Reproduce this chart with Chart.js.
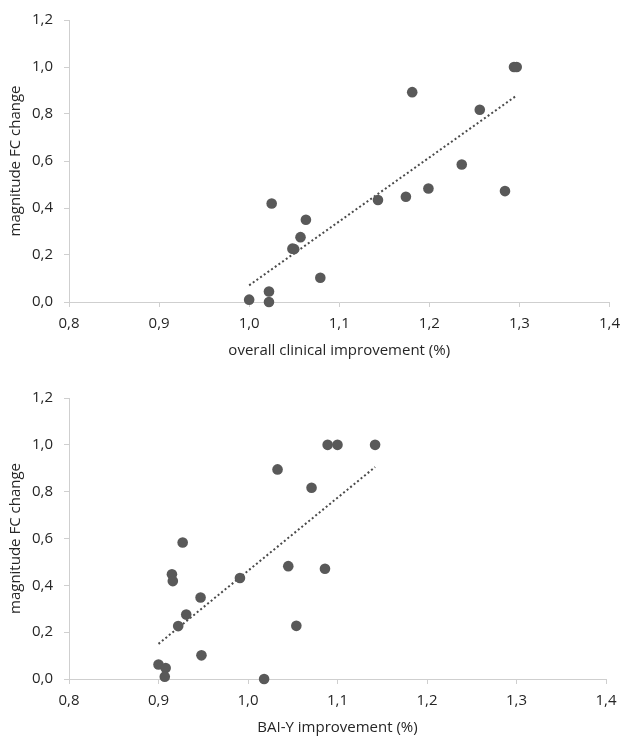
<!DOCTYPE html>
<html>
<head>
<meta charset="utf-8">
<script src="https://cdn.jsdelivr.net/npm/chart.js@4"></script>
<style>
  body { margin: 0; background: #fff; }
  .box { position: relative; width: 628px; }
</style>
</head>
<body>
<div class="box" style="height:370px"><canvas id="chartTop" width="628" height="370"></canvas></div>
<div class="box" style="height:369px"><canvas id="chartBottom" width="628" height="369"></canvas></div>
<script>
// axis ticks
const xTickValues = [0.8, 0.9, 1.0, 1.1, 1.2, 1.3, 1.4];
const xTickLabels = ["0,8", "0,9", "1,0", "1,1", "1,2", "1,3", "1,4"];
const yTickValues = [0, 0.2, 0.4, 0.6, 0.8, 1.0, 1.2];
const yTickLabels = ["0,0", "0,2", "0,4", "0,6", "0,8", "1,0", "1,2"];

// top chart: overall clinical improvement vs magnitude FC change
const clinicalX = [1.000, 1.022, 1.022, 1.025, 1.063, 1.057, 1.048, 1.050, 1.079, 1.143, 1.174, 1.181, 1.199, 1.236, 1.256, 1.284, 1.294, 1.297];
const clinicalY = [0.010, 0.045, 0.000, 0.419, 0.350, 0.276, 0.227, 0.225, 0.103, 0.434, 0.448, 0.893, 0.483, 0.585, 0.818, 0.472, 1.000, 1.000];
const clinicalTrendX = [1.000, 1.296];
const clinicalTrendY = [0.071, 0.876];

// bottom chart: BAI-Y improvement vs magnitude FC change
const baiX = [0.900, 0.908, 0.907, 0.915, 0.916, 0.927, 0.922, 0.931, 0.947, 0.948, 0.991, 1.018, 1.033, 1.045, 1.054, 1.071, 1.086, 1.089, 1.100, 1.142];
const baiY = [0.062, 0.047, 0.010, 0.447, 0.418, 0.583, 0.226, 0.275, 0.348, 0.101, 0.431, 0.000, 0.895, 0.482, 0.227, 0.817, 0.471, 1.000, 1.000, 1.000];
const baiTrendX = [0.900, 1.142];
const baiTrendY = [0.150, 0.905];

const pointColor = "#595959";
const axisColor = "#cfcfcf";
const textColor = "#262626";
const fontFamily = "'Open Sans', sans-serif";

function toPoints(xs, ys) {
  return xs.map((x, i) => ({ x: x, y: ys[i] }));
}

function makeChart(canvasId, xs, ys, trendXs, trendYs, xTitle, pad) {
  const ctx = document.getElementById(canvasId).getContext("2d");
  return new Chart(ctx, {
    type: "scatter",
    data: {
      datasets: [
        {
          data: toPoints(xs, ys),
          backgroundColor: pointColor,
          borderColor: pointColor,
          pointRadius: 5.3,
          pointHoverRadius: 5.3,
          borderWidth: 0,
          clip: false,
        },
        {
          data: toPoints(trendXs, trendYs),
          showLine: true,
          borderColor: "#4a4a4a",
          borderWidth: 2,
          borderDash: [2, 2.5],
          pointRadius: 0,
          fill: false,
        },
      ],
    },
    options: {
      responsive: false,
      animation: false,
      layout: { padding: pad },
      plugins: {
        legend: { display: false },
        tooltip: { enabled: false },
      },
      scales: {
        x: {
          type: "linear",
          min: 0.8,
          max: 1.4,
          afterBuildTicks: scale => { scale.ticks = xTickValues.map(v => ({ value: v })); },
          afterFit: scale => { scale.height = 60; },
          ticks: {
            callback: (val, i) => xTickLabels[i],
            color: textColor,
            padding: 8,
            maxRotation: 0,
            font: { family: fontFamily, size: 15 },
          },
          grid: { display: true, drawOnChartArea: false, drawTicks: true, tickLength: 5, color: axisColor },
          border: { display: true, color: axisColor, width: 1 },
          title: {
            display: true,
            text: xTitle,
            color: textColor,
            padding: { top: 4, bottom: 2 },
            font: { family: fontFamily, size: 15 },
          },
        },
        y: {
          type: "linear",
          min: 0,
          max: 1.2,
          afterBuildTicks: scale => { scale.ticks = yTickValues.map(v => ({ value: v })); },
          afterFit: scale => { scale.width = 69; },
          ticks: {
            callback: (val, i) => yTickLabels[i],
            color: textColor,
            padding: 11,
            font: { family: fontFamily, size: 15 },
          },
          grid: { display: true, drawOnChartArea: false, drawTicks: true, tickLength: 5, color: axisColor },
          border: { display: true, color: axisColor, width: 1 },
          title: {
            display: true,
            text: "magnitude FC change",
            color: textColor,
            padding: { top: 7, bottom: 0 },
            font: { family: fontFamily, size: 15 },
          },
        },
      },
    },
  });
}

makeChart("chartTop", clinicalX, clinicalY, clinicalTrendX, clinicalTrendY,
  "overall clinical improvement (%)", { top: 19, right: 14, bottom: 8, left: 0 });
makeChart("chartBottom", baiX, baiY, baiTrendX, baiTrendY,
  "BAI-Y improvement (%)", { top: 28, right: 22, bottom: 0, left: 0 });
</script>
</body>
</html>
